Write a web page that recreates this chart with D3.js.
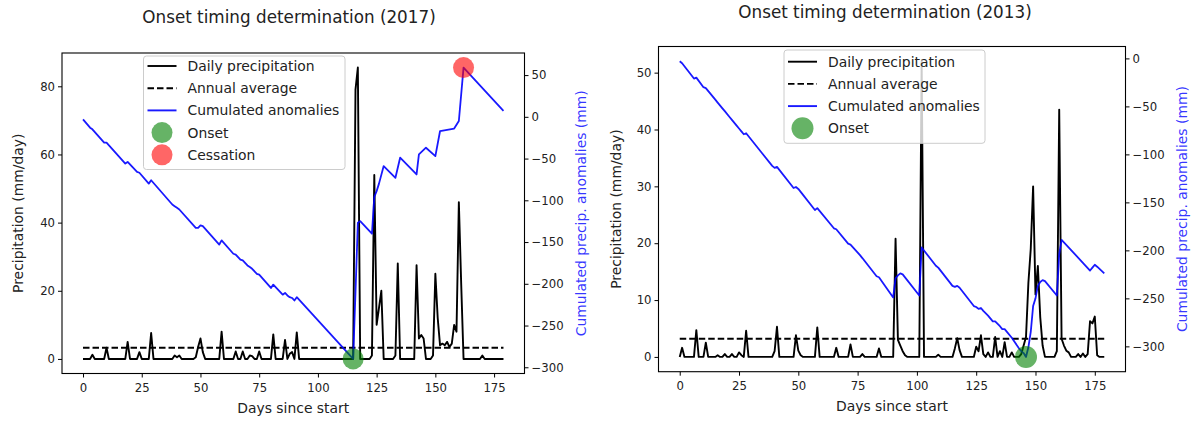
<!DOCTYPE html>
<html><head><meta charset="utf-8">
<script src="https://cdn.jsdelivr.net/npm/d3@7"></script>
<style>
body{margin:0;background:#fff;}
svg{display:block;font-family:"DejaVu Sans",sans-serif;}
</style></head><body>
<svg id="c" width="1194" height="421"></svg>
<script>
// ---------- DATA ----------
const days = d3.range(0, 180);
const xTicks = [0, 25, 50, 75, 100, 125, 150, 175];

// 2017 daily precipitation (mm/day), days 0..179
const precip2017 = [
 0,0,0,0,1.2,0,0,0,0,0,
 3.3,0,0,0,0,0,0,0,0,5,
 0,0,0,0,2,0,0,0,0,7.6,
 0,0,0,0,0,0,0,0,0,1,
 0.5,1,0,0,0,0,0,0,0.5,3.5,
 6,2,0,0,0,0,0,0,0,8,
 0,0,0,0,0,2.2,0,0,2.2,0,
 0,1,0.8,0,0,2.2,0,0,0,0,
 0,7.2,0,0,0,0,5.6,0,1.5,2,
 0,7.8,0,0,0,0,0,0,0,0,
 0,0,0,0,0,0,0,0,0,0,
 0,0,0,0,0,0,79,85.5,0,0,
 0,0,0,1,54,10,15,20,0,0,
 0,0,0,1,28,0,0,0,0,0,
 0,0,27.5,6,7,6,0,0,0,1,
 25,12,4,4.5,4,5,3.5,4.5,10,8,
 46,22,0,0,0,0,0,0,0,0,
 1,0,0,0,0,0,0,0,0,0
];
const avg2017 = 3.3;
// cumulated anomalies 2017 (day, mm) read at the line's vertices
const anomaly2017 = [
 [0,-3],[3,-13],[4,-15],[9,-31],[10,-31],[18,-56],[19,-54],[23,-66],[24,-67],[28,-80],[29,-76],
 [38,-105],[39,-107],[40,-109],[41,-111],[48,-133],[49,-133],[50,-130],[51,-131],[58,-153],[59,-148],
 [64,-164],[65,-165],[67,-171],[68,-172],[70,-178],[71,-180],[72,-182],[74,-188],[75,-189],
 [80,-205],[81,-201],[85,-213],[86,-211],[87,-214],[88,-216],[89,-217],[90,-220],[91,-216],
 [115,-290],[116,-210],[117,-127],[118,-125],[123,-140],[124,-96],[125,-89],[126,-80],[128,-59],
 [133,-73],[135,-49],[142,-69],[143,-45],[146,-37],[150,-47],[152,-17],[158,-14],[160,-5],
 [162,59],[179,7]
];
const onset2017 = [115, -290];
const cessation2017 = [162, 59];
const yTicksP2017 = [0, 20, 40, 60, 80];
const yTicksA2017 = [-300, -250, -200, -150, -100, -50, 0, 50];

// 2013 daily precipitation (mm/day), days 0..179
const precip2013 = [
 0,1.6,0,0,0,0,0,4.7,0,0,
 0,2.5,0,0,0,0,0.3,0,0,0.5,
 0,0,0.5,0,0,0.8,0.3,0,4.6,0,
 0,0,0,0,0,0,0,0,0,0,
 1,5.3,0,0,0,0,0,0,0,3.8,
 1.1,0.3,0,0,0,0,0,0,5.2,0,
 0,0,0,0,0,0,1.6,0,0,0,
 0,0,2.2,0,0,0,0,0.5,0,0,
 0,0,0,0,1.5,0,0,0,0,0,
 0,20.8,3,2,1,0.3,0,0,0,0,
 0,0,52,0,0,0,0,0,0,0.4,
 0,0,0,0,0,0,1.5,3.3,1.2,0,
 0,0,0,0,0,1.8,1,3.8,0.5,0,
 0.8,0,0,3.5,0,1,0,2.6,0,0,
 0.8,0,0,0,0.5,2,3.5,13,19,30,
 11,16,7,2,0,0,0,0,0,1,
 43.5,3.2,2,1.1,0.8,0,0,0,0.5,0,
 0.6,0,0.5,6.3,5.9,7.1,0.3,0,0,0
];
const avg2013 = 3.2;
const anomaly2013 = [
 [0,-3],[1,-5],[6,-21],[7,-20],[10,-30],[11,-31],[15,-43],[16,-46],[18,-52],[19,-55],[21,-61],[22,-64],
 [24,-70],[25,-73],[26,-76],[27,-79],[28,-78],[39,-112],[40,-114],[41,-113],[48,-135],[49,-134],[50,-136],
 [51,-139],[57,-158],[58,-156],[65,-177],[66,-178],[71,-193],[72,-194],[76,-205],[77,-208],[83,-227],[84,-228],
 [90,-249],[91,-229],[92,-226],[93,-224],[94,-225],[101,-247],[102,-197],[108,-216],[109,-218],[115,-237],
 [116,-238],[117,-237],[118,-239],[124,-258],[125,-259],[126,-261],[127,-260],[128,-263],[130,-268],[132,-274],
 [133,-274],[135,-279],[136,-282],[137,-282],[140,-291],[143,-302],[144,-305],[145,-307],[146,-311],[147,-301],
 [148,-285],[149,-258],[150,-250],[151,-237],[152,-233],[153,-231],[154,-232],[159,-247],[160,-204],[161,-189],
 [173,-221],[174,-218],[175,-215],[176,-217],[179,-224]
];
const onset2013 = [146, -311];
const yTicksP2013 = [0, 10, 20, 30, 40, 50];
const yTicksA2013 = [-300, -250, -200, -150, -100, -50, 0];

const legendLabels = ["Daily precipitation", "Annual average", "Cumulated anomalies", "Onset", "Cessation"];

// ---------- DRAW ----------
const svg = d3.select("#c");
svg.append("rect").attr("width",1194).attr("height",421).attr("fill","#fff");
const fmt = d => (d < 0 ? "\u2212" + Math.abs(d) : String(d));
const pad = ([a, b]) => [a - (b - a) * 0.05, b + (b - a) * 0.05];
const TXT = "#222";
const LW = 1.9;

function panel(cfg) {
  const g = svg.append("g");
  const x = d3.scaleLinear().domain(pad(d3.extent(days))).range([cfg.L, cfg.R]);
  const yP = d3.scaleLinear().domain(pad(d3.extent(cfg.precip))).range([cfg.B, cfg.T]);
  const yA = d3.scaleLinear().domain(pad(d3.extent(cfg.anom, d => d[1]))).range([cfg.B, cfg.T]);

  const clipId = "clip" + cfg.id;
  g.append("clipPath").attr("id", clipId).append("rect")
    .attr("x", cfg.L).attr("y", cfg.T).attr("width", cfg.R - cfg.L).attr("height", cfg.B - cfg.T);
  const plot = g.append("g").attr("clip-path", `url(#${clipId})`);

  // precipitation
  plot.append("path").datum(days)
    .attr("d", d3.line().x(d => x(d)).y(d => yP(cfg.precip[d])))
    .attr("fill", "none").attr("stroke", "#000").attr("stroke-width", LW).attr("stroke-linejoin","round");
  // annual average
  plot.append("path").datum([days[0], days[days.length - 1]])
    .attr("d", d3.line().x(d => x(d)).y(() => yP(cfg.avg)))
    .attr("fill", "none").attr("stroke", "#000").attr("stroke-width", LW).attr("stroke-dasharray", "6.5,3");
  // anomalies
  plot.append("path").datum(cfg.anom)
    .attr("d", d3.line().x(d => x(d[0])).y(d => yA(d[1])))
    .attr("fill", "none").attr("stroke", "#0000ff").attr("stroke-opacity", 0.9).attr("stroke-width", 1.8).attr("stroke-linejoin","round");
  // markers
  plot.append("circle").attr("cx", x(cfg.onset[0])).attr("cy", yA(cfg.onset[1])).attr("r", cfg.mr)
    .attr("fill", "green").attr("fill-opacity", 0.6);
  if (cfg.cess) plot.append("circle").attr("cx", x(cfg.cess[0])).attr("cy", yA(cfg.cess[1])).attr("r", cfg.mr)
    .attr("fill", "red").attr("fill-opacity", 0.6);

  // axes
  const ax = g.append("g").attr("transform", `translate(0,${cfg.B})`)
    .call(d3.axisBottom(x).tickValues(xTicks).tickFormat(fmt).tickSize(4).tickPadding(6));
  const ayl = g.append("g").attr("transform", `translate(${cfg.L},0)`)
    .call(d3.axisLeft(yP).tickValues(cfg.ticksP).tickFormat(fmt).tickSize(4).tickPadding(3));
  const ayr = g.append("g").attr("transform", `translate(${cfg.R},0)`)
    .call(d3.axisRight(yA).tickValues(cfg.ticksA).tickFormat(fmt).tickSize(4).tickPadding(3));
  [ax, ayl, ayr].forEach(a => {
    a.select(".domain").remove();
    a.selectAll("text").attr("font-size", "11.7px").attr("fill", TXT).attr("font-family", "DejaVu Sans");
    a.selectAll("line").attr("stroke", "#000").attr("stroke-width", 1);
  });
  g.append("rect").attr("x", cfg.L).attr("y", cfg.T).attr("width", cfg.R - cfg.L).attr("height", cfg.B - cfg.T)
    .attr("fill", "none").attr("stroke", "#000").attr("stroke-width", 1.1);

  // labels
  g.append("text").attr("x", (cfg.L + cfg.R) / 2).attr("y", cfg.B + 39).attr("text-anchor", "middle")
    .attr("font-size", "13.9px").attr("fill", TXT).text("Days since start");
  g.append("text").attr("transform", `translate(${cfg.ylx},${(cfg.T + cfg.B) / 2}) rotate(-90)`)
    .attr("text-anchor", "middle").attr("dominant-baseline", "central")
    .attr("font-size", "13.9px").attr("fill", TXT).text("Precipitation (mm/day)");
  g.append("text").attr("transform", `translate(${cfg.yrx},${(cfg.T + cfg.B) / 2}) rotate(-90)`)
    .attr("text-anchor", "middle").attr("dominant-baseline", "central")
    .attr("font-size", "13.9px").attr("fill", "#0000ff").attr("fill-opacity", 0.8).text("Cumulated precip. anomalies (mm)");
  g.append("text").attr("x", cfg.tx).attr("y", cfg.ty).attr("text-anchor", "middle")
    .attr("font-size", "16.8px").attr("fill", TXT).text(cfg.title);

  // legend
  const lg = g.append("g");
  const n = cfg.cess ? 5 : 4;
  lg.append("rect").attr("x", cfg.lgx).attr("y", cfg.lgy).attr("width", cfg.lgw).attr("height", cfg.lgh)
    .attr("rx", 3).attr("fill", "#fff").attr("fill-opacity", 0.8).attr("stroke", "#ccc").attr("stroke-width", 1);
  for (let i = 0; i < n; i++) {
    const cy = cfg.lgy + cfg.row0 + i * cfg.rowH;
    const hx0 = cfg.lgx + 4, hx1 = cfg.lgx + 33;
    if (i === 0) lg.append("line").attr("x1", hx0).attr("x2", hx1).attr("y1", cy).attr("y2", cy).attr("stroke", "#000").attr("stroke-width", LW);
    if (i === 1) lg.append("line").attr("x1", hx0).attr("x2", hx1).attr("y1", cy).attr("y2", cy).attr("stroke", "#000").attr("stroke-width", LW).attr("stroke-dasharray", "6.5,3");
    if (i === 2) lg.append("line").attr("x1", hx0).attr("x2", hx1).attr("y1", cy).attr("y2", cy).attr("stroke", "#0000ff").attr("stroke-opacity", 0.9).attr("stroke-width", 1.9);
    if (i === 3) lg.append("circle").attr("cx", (hx0 + hx1) / 2).attr("cy", cy).attr("r", cfg.mr).attr("fill", "green").attr("fill-opacity", 0.6);
    if (i === 4) lg.append("circle").attr("cx", (hx0 + hx1) / 2).attr("cy", cy).attr("r", cfg.mr).attr("fill", "red").attr("fill-opacity", 0.6);
    lg.append("text").attr("x", cfg.lgx + 44).attr("y", cy).attr("dominant-baseline", "central")
      .attr("font-size", "13.9px").attr("fill", TXT).text(legendLabels[i]);
  }
}

panel({ id: "a", L: 62, R: 524.5, T: 53, B: 373.5, precip: precip2017, avg: avg2017, anom: anomaly2017,
  onset: onset2017, cess: cessation2017, ticksP: yTicksP2017, ticksA: yTicksA2017, mr: 10.5,
  title: "Onset timing determination (2017)", tx: 289, ty: 23, ylx: 18, yrx: 581,
  lgx: 143.5, lgy: 56, lgw: 201.5, lgh: 113.5, row0: 10, rowH: 22.2 });

panel({ id: "b", L: 658.5, R: 1125.5, T: 46.5, B: 371.7, precip: precip2013, avg: avg2013, anom: anomaly2013,
  onset: onset2013, cess: null, ticksP: yTicksP2013, ticksA: yTicksA2013, mr: 11,
  title: "Onset timing determination (2013)", tx: 885, ty: 17.5, ylx: 616, yrx: 1182,
  lgx: 784, lgy: 50, lgw: 201, lgh: 93.3, row0: 11.7, rowH: 22.2 });
</script>
</body></html>
